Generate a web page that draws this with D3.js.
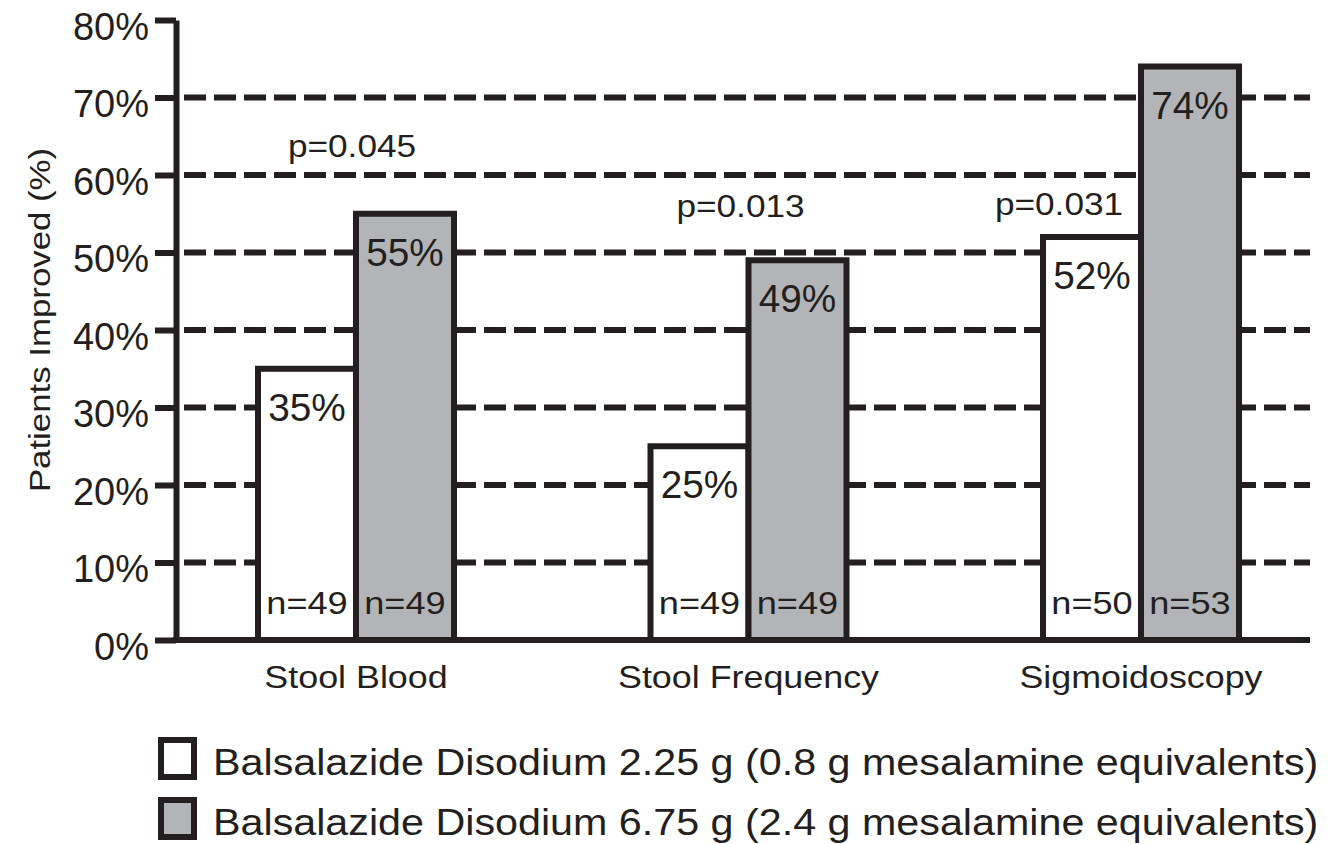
<!DOCTYPE html>
<html>
<head>
<meta charset="utf-8">
<script src="https://cdn.jsdelivr.net/npm/d3@7"></script>
<style>
  html, body { margin: 0; padding: 0; background: #ffffff; }
  svg { display: block; font-family: "Liberation Sans", Arial, Helvetica, sans-serif; }
</style>
</head>
<body>
<svg id="chart" width="1330" height="844"></svg>
<script>
// ---- data ----
const categories = ["Stool Blood", "Stool Frequency", "Sigmoidoscopy"];
const seriesNames = [
  "Balsalazide Disodium 2.25 g (0.8 g mesalamine equivalents)",
  "Balsalazide Disodium 6.75 g (2.4 g mesalamine equivalents)"
];
const lowDoseValues = [35, 25, 52];
const highDoseValues = [55, 49, 74];
const lowDoseN = [49, 49, 50];
const highDoseN = [49, 49, 53];
const pValueLabels = ["p=0.045", "p=0.013", "p=0.031"];
const pValueLevels = [62.3, 54.6, 54.8];   // annotation height in data units (%)
const yTickValues = [0, 10, 20, 30, 40, 50, 60, 70, 80];
const gridValues = [10, 20, 30, 40, 50, 60, 70];
const yAxisTitle = "Patients Improved (%)";

// ---- styles ----
const INK = "#231f20";
const GREY = "#b2b4b7";
const fills = ["#ffffff", GREY];
const pAnnotDx = [-4, -8, -82];

const svg = d3.select("#chart");
svg.append("rect").attr("width", 1330).attr("height", 844).attr("fill", "#fff");

const y = d3.scaleLinear().domain([0, 80]).range([640, 20]);
const x0 = d3.scalePoint().domain(categories).range([356, 1141]);
const x1 = d3.scaleBand().domain([0, 1]).range([-98, 98]);

function stretch(sel, f) {
  sel.each(function () {
    const w = this.getComputedTextLength();
    this.setAttribute("textLength", w * f);
    this.setAttribute("lengthAdjust", "spacingAndGlyphs");
  });
}

// gridlines
svg.append("g").selectAll("line").data(gridValues).join("line")
  .attr("x1", 184).attr("x2", 1310)
  .attr("y1", d => y(d)).attr("y2", d => y(d))
  .attr("stroke", INK).attr("stroke-width", 6)
  .attr("stroke-dasharray", "22,8");

// bars
const rows = categories.map((c, i) => ({
  cat: c,
  vals: [lowDoseValues[i], highDoseValues[i]],
  ns: [lowDoseN[i], highDoseN[i]]
}));

const groups = svg.append("g").selectAll("g").data(rows).join("g")
  .attr("transform", d => `translate(${x0(d.cat)},0)`);

groups.selectAll("rect").data(d => d.vals.map((v, s) => ({ v, s }))).join("rect")
  .attr("x", d => x1(d.s))
  .attr("width", x1.bandwidth())
  .attr("y", d => y(d.v))
  .attr("height", d => y(0) - y(d.v))
  .attr("fill", d => fills[d.s])
  .attr("stroke", INK).attr("stroke-width", 6);

// value labels
groups.selectAll("text.val").data(d => d.vals.map((v, s) => ({ v, s }))).join("text")
  .attr("class", "val")
  .attr("x", d => x1(d.s) + x1.bandwidth() / 2)
  .attr("y", d => y(d.v) + 52)
  .attr("text-anchor", "middle")
  .attr("font-size", 38)
  .attr("fill", INK)
  .text(d => d.v + "%")
  .call(stretch, 1.02);

// n labels
groups.selectAll("text.n").data(d => d.ns.map((n, s) => ({ n, s }))).join("text")
  .attr("class", "n")
  .attr("x", d => x1(d.s) + x1.bandwidth() / 2)
  .attr("y", y(0) - 26)
  .attr("text-anchor", "middle")
  .attr("font-size", 32)
  .attr("fill", INK)
  .text(d => "n=" + d.n)
  .call(stretch, 1.13);

// y axis
const yAxis = d3.axisLeft(y).tickValues(yTickValues).tickSize(21).tickSizeOuter(0)
  .tickPadding(6).tickFormat(d => d + "%");
const ya = svg.append("g").attr("transform", "translate(176,0)").call(yAxis);
ya.select(".domain").attr("stroke", INK).attr("stroke-width", 6);
ya.selectAll(".tick line").attr("stroke", INK).attr("stroke-width", 6);
ya.selectAll(".tick text")
  .attr("font-size", 38).attr("fill", INK)
  .attr("font-family", "'Liberation Sans', Arial, sans-serif")
  .attr("dy", "0.5em");

// baseline
svg.append("line")
  .attr("x1", 173).attr("x2", 1310)
  .attr("y1", y(0)).attr("y2", y(0))
  .attr("stroke", INK).attr("stroke-width", 6);

// category labels
svg.append("g").selectAll("text").data(categories).join("text")
  .attr("x", d => x0(d))
  .attr("y", y(0) + 48)
  .attr("text-anchor", "middle")
  .attr("font-size", 32)
  .attr("fill", INK)
  .text(d => d)
  .call(stretch, 1.12);

// p-value annotations
svg.append("g").selectAll("text").data(pValueLabels).join("text")
  .attr("x", (d, i) => x0(categories[i]) + pAnnotDx[i])
  .attr("y", (d, i) => y(pValueLevels[i]))
  .attr("text-anchor", "middle")
  .attr("font-size", 32)
  .attr("fill", INK)
  .text(d => d)
  .call(stretch, 1.1);

// y axis title
svg.append("text")
  .attr("transform", "translate(50,320) rotate(-90)")
  .attr("text-anchor", "middle")
  .attr("font-size", 29)
  .attr("fill", INK)
  .text(yAxisTitle)
  .call(stretch, 1.2);

// legend
const legend = svg.append("g").selectAll("g").data(seriesNames).join("g")
  .attr("transform", (d, i) => `translate(0,${i * 60})`);
legend.append("rect")
  .attr("x", 161).attr("y", 740).attr("width", 33).attr("height", 37)
  .attr("fill", (d, i) => fills[i])
  .attr("stroke", INK).attr("stroke-width", 6);
legend.append("text")
  .attr("x", 213).attr("y", 775)
  .attr("font-size", 37)
  .attr("fill", INK)
  .text(d => d)
  .call(stretch, 1.115);
</script>
</body>
</html>
